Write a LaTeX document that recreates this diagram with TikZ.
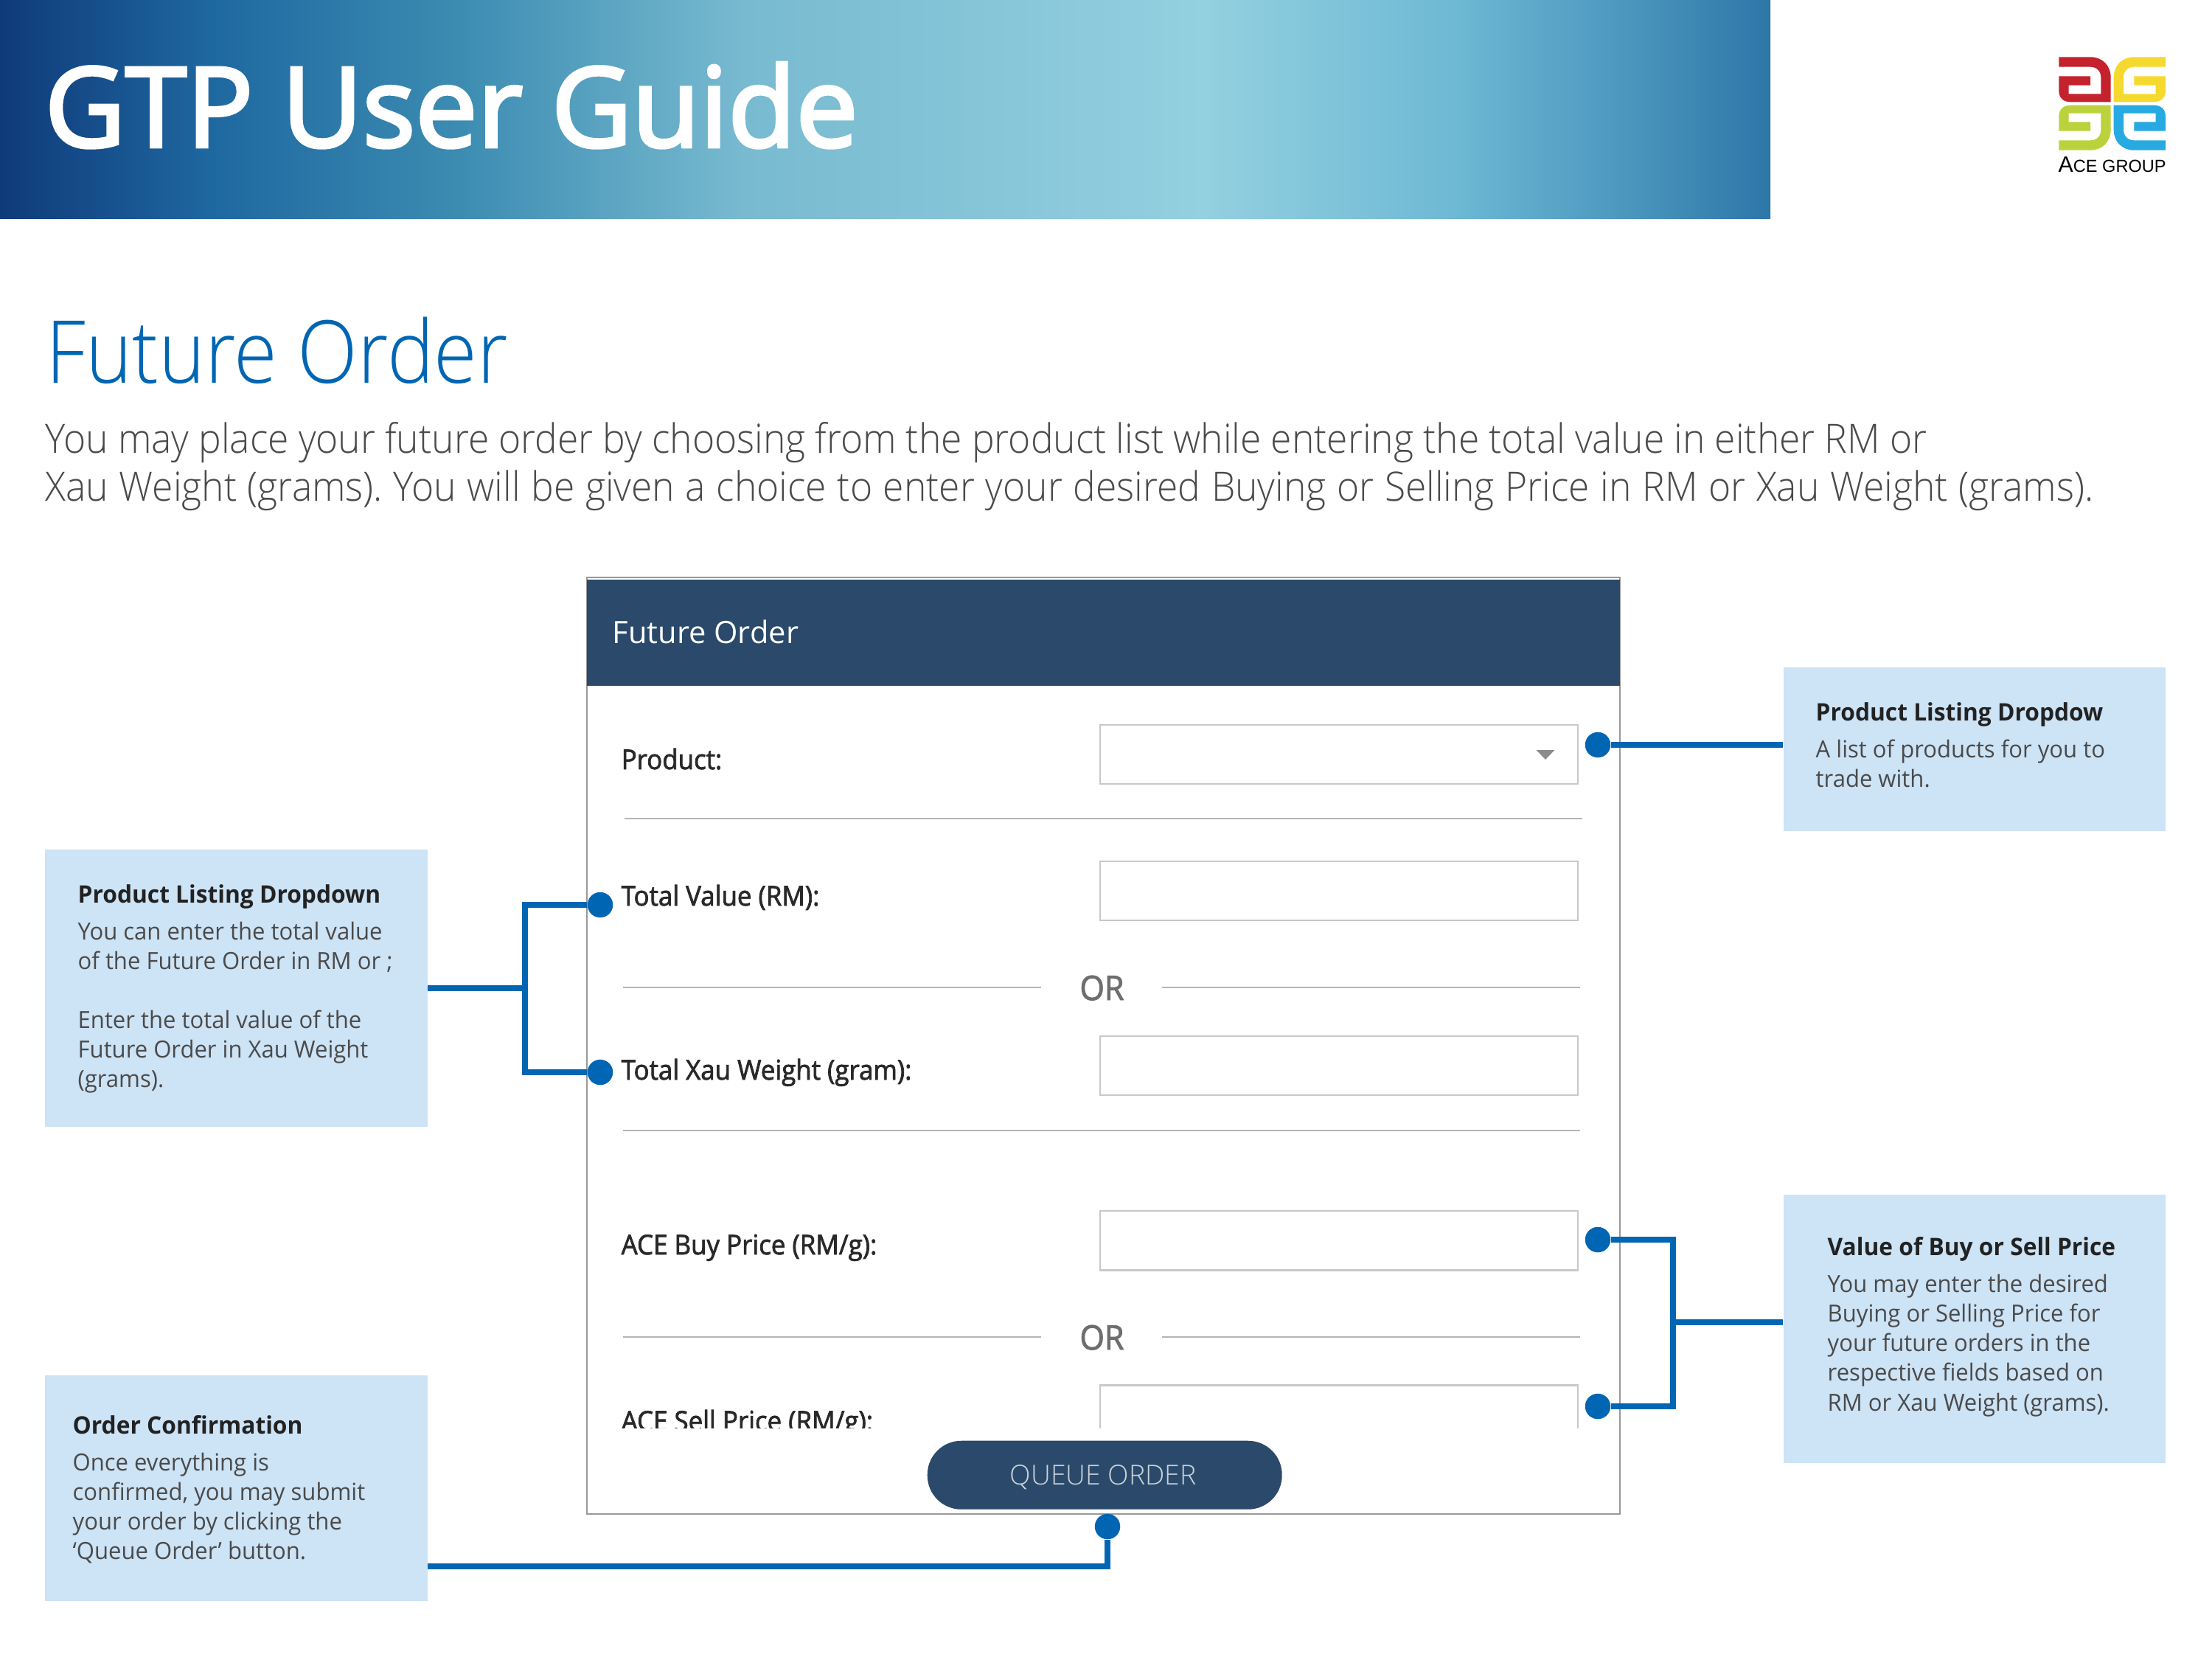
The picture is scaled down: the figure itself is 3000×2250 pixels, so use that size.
\documentclass[tikz,border=0pt]{standalone}
\usepackage{fontspec}
\setmainfont{Open Sans}
\newfontfamily\osheading[FakeStretch=0.907]{Open Sans Light}
\newfontfamily\ospara[FakeStretch=0.94]{Open Sans Light}
\newfontfamily\oslight{Open Sans Light}
\newfontfamily\ostitle[FakeBold=3]{Open Sans}
\newfontfamily\ossemi[FakeBold=2,FakeStretch=0.94]{Open Sans}
\newfontfamily\oscall[FakeStretch=0.97]{Open Sans}
\newfontfamily\logofont{Liberation Sans}
\definecolor{cblue}{HTML}{0066B3}
\definecolor{cfill}{HTML}{CDE3F6}
\definecolor{cnavy}{HTML}{2B4A6B}
\definecolor{ctext}{HTML}{4A4A4A}
\definecolor{cdark}{HTML}{222222}
\definecolor{cboxb}{HTML}{C8C8C8}
\definecolor{cline}{HTML}{B5B5B5}
\definecolor{cpanel}{HTML}{999999}
\definecolor{lred}{HTML}{C4222D}
\definecolor{lyel}{HTML}{F6D92F}
\definecolor{lgrn}{HTML}{BBD23C}
\definecolor{lblu}{HTML}{27A9E1}
\definecolor{gA}{RGB}{15,58,122}
\definecolor{gB}{RGB}{30,104,160}
\definecolor{gC}{RGB}{60,140,178}
\definecolor{gD}{RGB}{120,186,208}
\definecolor{gE}{RGB}{147,208,224}
\definecolor{gF}{RGB}{110,185,212}
\definecolor{gG}{RGB}{75,150,190}
\definecolor{gH}{RGB}{45,118,168}
\pgfdeclarehorizontalshading{bannershade}{100bp}{%
 color(0bp)=(gA);
 color(25bp)=(gA);
 color(31bp)=(gB);
 color(38bp)=(gC);
 color(46bp)=(gD);
 color(59bp)=(gE);
 color(66bp)=(gF);
 color(71bp)=(gG);
 color(75bp)=(gH);
 color(100bp)=(gH)}
\newcommand{\logoshape}{(-217,-189.5) -- (-89,-189.5) .. controls (-40,-189.5) and (-6,-155) .. (-6,-106.5) -- (-6,-6.5) -- (-169,-6.5) .. controls (-200,-6.5) and (-217,-25) .. (-217,-51.5) -- (-217,-111.5) -- (-89,-111.5) -- (-89,-74.5) -- (-177,-74.5) -- (-177,-39.5) -- (-46,-39.5) -- (-46,-106.5) .. controls (-46,-132) and (-64,-149.5) .. (-89,-149.5) -- (-217,-149.5) -- cycle}
\newcommand{\calloutitle}[1]{{\fontsize{9.3}{11.4}\selectfont\color{cdark}\textbf{#1}}}
\tikzset{
 calloutbox/.style={fill=cfill,draw=none,inner sep=0pt,anchor=north west},
 callouttext/.style={anchor=north west,inner sep=0pt,align=left,text=ctext,font=\oscall\fontsize{9.1}{11.4}\selectfont},
 connector/.style={draw=cblue,line width=2.2pt},
 pin/.style={circle,fill=cblue,minimum size=34.5*0.01cm,inner sep=0pt},
 inputbox/.style={draw=cboxb,line width=0.7pt,fill=white,inner sep=0pt,anchor=north west,minimum width=648*0.01cm,minimum height=80*0.01cm},
 fieldlabel/.style={anchor=base west,inner sep=0pt,text=ctext!55!black,font=\ossemi\fontsize{10.55}{12}\selectfont},
 orlabel/.style={anchor=base,inner sep=0pt,text=black!57,font=\ossemi\fontsize{13}{14}\selectfont},
 rulegray/.style={draw=cline,line width=0.6pt},
}
\begin{document}
\begin{tikzpicture}[x=0.01cm,y=-0.01cm]
\useasboundingbox (0,0) rectangle (3000,2250);
% banner
\shade[shading=bannershade] (0,0) rectangle (2401,296);
\node[anchor=base west,inner sep=0pt,text=white] (title) at (60,199) {\ostitle\fontsize{42.7}{50}\selectfont GTP User Guide};
% logo
\begin{scope}[shift={(2864.67,140.5)},x=0.01cm/3,y=-0.01cm/3]
 \fill[lred] \logoshape;
 \begin{scope}[xscale=-1]\fill[lyel] \logoshape;\end{scope}
 \begin{scope}[yscale=-1]\fill[lgrn] \logoshape;\end{scope}
 \begin{scope}[xscale=-1,yscale=-1]\fill[lblu] \logoshape;\end{scope}
\end{scope}
\node[anchor=base west,inner sep=0pt,text=black] (logotext) at (2791,233) {\logofont\fontsize{8.6}{9}\selectfont A\fontsize{6.7}{9}\selectfont CE GROUP};
% heading
\node[anchor=base west,inner sep=0pt,text=cblue] (heading) at (62,519) {\osheading\fontsize{33.5}{40}\selectfont Future Order};
\node[anchor=north west,inner sep=0pt,align=left,text=ctext,font=\ospara\fontsize{15.6}{18.5}\selectfont] (para) at (61,572) {\frenchspacing\makebox[25.50cm][s]{You may place your future order by choosing from the product list while entering the total value in either RM or}\\\frenchspacing\makebox[27.76cm][s]{Xau Weight (grams). You will be given a choice to enter your desired Buying or Selling Price in RM or Xau Weight (grams).}};
% panel
\node[draw=cpanel,line width=0.5pt,fill=white,anchor=north west,inner sep=0pt,minimum width=1401*0.01cm,minimum height=1270*0.01cm] (panel) at (795,782) {};
\node[fill=cnavy,anchor=north west,inner sep=0pt,minimum width=1401*0.01cm,minimum height=144*0.01cm] (header) at (795,785) {};
\node[anchor=base west,inner sep=0pt,text=white] (headertext) at (830,872) {\fontsize{11.85}{14}\selectfont Future Order};
\node[inputbox] (boxproduct) at (1491,981.5) {};
\fill[black!45] (2083.5,1017) -- (2108.5,1017) -- (2096,1030) -- cycle;
\node[fieldlabel] (lproduct) at (842,1043) {Product:};
\draw[rulegray] (847,1110) -- (2146,1110);
\node[inputbox] (boxvalue) at (1491,1167) {};
\node[fieldlabel] (lvalue) at (842,1228) {Total Value (RM):};
\draw[rulegray] (845,1339) -- (1412,1339);
\draw[rulegray] (1576,1339) -- (2143,1339);
\node[orlabel] (or1) at (1494.5,1356) {OR};
\node[inputbox] (boxweight) at (1491,1404) {};
\node[fieldlabel] (lweight) at (842,1464) {Total Xau Weight (gram):};
\draw[rulegray] (845,1533) -- (2143,1533);
\node[inputbox] (boxbuy) at (1491,1641) {};
\node[fieldlabel] (lbuy) at (842,1701) {ACE Buy Price (RM/g):};
\draw[rulegray] (845,1813) -- (1412,1813);
\draw[rulegray] (1576,1813) -- (2143,1813);
\node[orlabel] (or2) at (1494.5,1830) {OR};
\begin{scope}
 \clip (800,1850) rectangle (2190,1936);
 \node[inputbox] (boxsell) at (1491,1877) {};
 \node[fieldlabel] (lsell) at (842,1940) {ACE Sell Price (RM/g):};
\end{scope}
\node[fill=cnavy,rounded corners=46*0.01cm,anchor=north west,inner sep=0pt,minimum width=481*0.01cm,minimum height=93*0.01cm] (button) at (1257,1953) {};
\node[anchor=base,inner sep=0pt,text=white!75!cnavy] (buttontext) at (1496,2013) {\oslight\fontsize{10.6}{12}\selectfont QUEUE ORDER};
% callouts
\node[calloutbox,minimum width=518*0.01cm,minimum height=222*0.01cm] (callA) at (2418,904) {};
\node[callouttext] (textA) at (2462,952) {\calloutitle{Product Listing Dropdow}\\[2.8pt]A list of products for you to\\trade with.};
\node[calloutbox,minimum width=519*0.01cm,minimum height=376*0.01cm] (callB) at (60,1151) {};
\node[callouttext] (textB) at (105,1199) {\calloutitle{Product Listing Dropdown}\\[2.8pt]You can enter the total value\\of the Future Order in RM or ;\\[11.4pt]Enter the total value of the\\Future Order in Xau Weight\\(grams).};
\node[calloutbox,minimum width=518*0.01cm,minimum height=364*0.01cm] (callC) at (2418,1619) {};
\node[callouttext] (textC) at (2478,1677) {\calloutitle{Value of Buy or Sell Price}\\[2.8pt]You may enter the desired\\Buying or Selling Price for\\your future orders in the\\respective fields based on\\RM or Xau Weight (grams).};
\node[calloutbox,minimum width=519*0.01cm,minimum height=306*0.01cm] (callD) at (60,1864) {};
\node[callouttext] (textD) at (98,1919) {\calloutitle{Order Confirmation}\\[2.8pt]Once everything is\\confirmed, you may submit\\your order by clicking the\\‘Queue Order’ button.};
% pins and connectors
\node[pin] (pinA) at (2167,1010) {};
\node[pin] (pinB1) at (814,1227) {};
\node[pin] (pinB2) at (814,1454) {};
\node[pin] (pinC1) at (2167,1681) {};
\node[pin] (pinC2) at (2167,1907) {};
\node[pin] (pinD) at (1502,2070) {};
\coordinate (jB) at (712,1340);
\coordinate (jC) at (2269,1793);
\coordinate (jD) at (1502,2124);
\draw[connector] (pinA) -- (pinA -| callA.west);
\draw[connector] (jB -| callB.east) -- (jB);
\draw[connector] (pinB1) -- (pinB1 -| jB) -- (pinB2 -| jB) -- (pinB2);
\draw[connector] (pinC1) -- (pinC1 -| jC) -- (pinC2 -| jC) -- (pinC2);
\draw[connector] (jC) -- (jC -| callC.west);
\draw[connector] (pinD) -- (jD) -- (jD -| callD.east);
\end{tikzpicture}
\end{document}
